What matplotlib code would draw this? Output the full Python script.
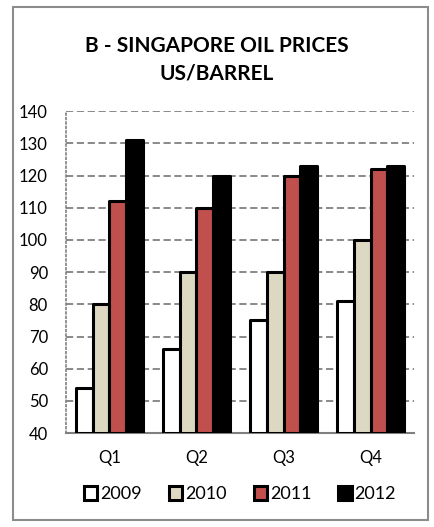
import numpy as np
import matplotlib.pyplot as plt
from matplotlib.patches import FancyBboxPatch

plt.rcParams['font.family'] = ['Lato', 'DejaVu Sans']

# Precios trimestrales del petróleo en Singapur (US$/barril)
trimestres = ['Q1', 'Q2', 'Q3', 'Q4']
anios = ['2009', '2010', '2011', '2012']
p2009 = [54, 66, 75, 81]
p2010 = [80, 90, 90, 100]
p2011 = [112, 110, 120, 122]
p2012 = [131, 120, 123, 123]
series = [p2009, p2010, p2011, p2012]
colores = ['white', '#ddd8c2', '#c0504d', 'black']

fig = plt.figure(figsize=(4.34, 5.27), dpi=100)

# Marco exterior del gráfico
marco = FancyBboxPatch((13 / 434, 7 / 527), 415 / 434, 513 / 527,
                       boxstyle='square,pad=0', transform=fig.transFigure,
                       facecolor='none', edgecolor='#8c8c8c', linewidth=1.5)
fig.patches.append(marco)

ax = fig.add_axes([0.152, 0.178, 0.802, 0.611])

x = np.arange(len(trimestres))
ancho = 0.19
for i, (vals, color, anio) in enumerate(zip(series, colores, anios)):
    pos = x - 1.5 * ancho + i * ancho
    alturas = np.array(vals) - 40
    ax.bar(pos, alturas, width=ancho, bottom=40, color=color,
           edgecolor='black', linewidth=2.2, label=anio, zorder=3,
           joinstyle='round')

ax.set_ylim(40, 140)
ax.set_xlim(-0.5, 3.5)
ax.set_yticks(np.arange(40, 141, 10))
ax.set_xticks(x)
ax.set_xticklabels(trimestres)
ax.tick_params(axis='both', length=0, labelsize=12, colors='black')
ax.tick_params(axis='x', pad=12)
ax.tick_params(axis='y', pad=13)
ax.yaxis.grid(True, linestyle=(0, (4, 2)), color='#808080', linewidth=1.3,
              zorder=0)

ax.spines['top'].set_visible(False)
ax.spines['right'].set_visible(False)
ax.spines['left'].set_linestyle(':')
ax.spines['left'].set_color('#808080')
ax.spines['left'].set_linewidth(1.2)
ax.spines['bottom'].set_color('#808080')
ax.spines['bottom'].set_linewidth(1.5)

fig.text(0.5, 0.887, 'B - SINGAPORE OIL PRICES\nUS/BARREL', ha='center',
         va='center', fontsize=15, fontweight='bold', linespacing=1.45)

ax.legend(loc='center', bbox_to_anchor=(0.5, -0.19), ncol=4, frameon=False,
          fontsize=13, handlelength=0.75, handleheight=0.75,
          handletextpad=0.15, columnspacing=1.5)

fig.savefig('out.png', dpi=100)
